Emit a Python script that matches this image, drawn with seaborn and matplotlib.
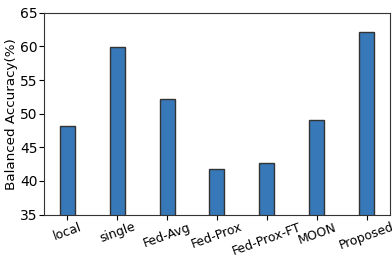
import matplotlib
matplotlib.use("Agg")
import matplotlib.pyplot as plt
import seaborn as sns
import pandas as pd

methods = ["local", "single", "Fed-Avg", "Fed-Prox", "Fed-Prox-FT", "MOON", "Proposed"]
balanced_acc = [48.2, 59.9, 52.2, 41.8, 42.7, 49.1, 62.1]

df = pd.DataFrame({"method": methods, "acc": balanced_acc})

sns.set_style("ticks")
plt.rcParams["font.family"] = ["DejaVu Sans"]
plt.rcParams["text.color"] = "black"
plt.rcParams["axes.labelcolor"] = "black"
plt.rcParams["xtick.color"] = "black"
plt.rcParams["ytick.color"] = "black"

fig, ax = plt.subplots(figsize=(3.92, 2.57), dpi=100)
sns.barplot(data=df, x="method", y="acc", color="#3778b8", saturation=1,
            width=0.3, edgecolor="#333333", linewidth=1.0, ax=ax)
ax.set_ylim(35, 65)
ax.set_xlim(-0.465, 6.465)
ax.set_xlabel("")
ax.set_ylabel("Balanced Accuracy(%)", fontsize=9.7, labelpad=2)
ax.tick_params(axis="both", length=3.5, width=0.8)
ax.tick_params(axis="y", pad=0.8, labelsize=10)
ax.tick_params(axis="x", pad=0.8, labelsize=9.0)
plt.setp(ax.get_xticklabels(), rotation=20)
for s in ax.spines.values():
    s.set_color("#333333")
    s.set_linewidth(0.8)
fig.subplots_adjust(left=0.112, right=0.995, top=0.95, bottom=0.165)
fig.savefig("out.png", dpi=100)
